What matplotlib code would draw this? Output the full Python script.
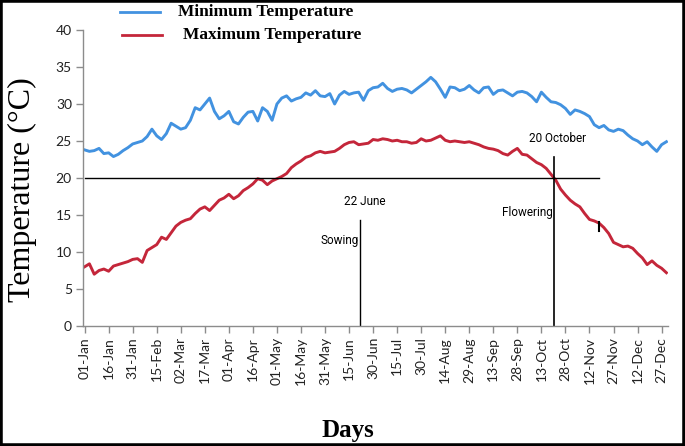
import numpy as np
import matplotlib
matplotlib.use("Agg")
import matplotlib.pyplot as plt
from matplotlib.patches import Rectangle

# day of year (0 = 01-Jan), read every 3 days off the picture
days = list(range(0, 364, 3))

# upper (blue) curve, labelled "Minimum Temperature" in the source legend
t_blue = [23.8, 23.6, 23.7, 24.0, 23.3, 23.4, 22.9, 23.2, 23.7, 24.1,
          24.6, 24.8, 25.0, 25.6, 26.6, 25.7, 25.2, 26.0, 27.4, 27.0,
          26.6, 26.8, 27.8, 29.5, 29.2, 30.0, 30.8, 29.0, 28.0, 28.4,
          29.0, 27.6, 27.3, 28.2, 28.9, 29.0, 27.7, 29.5, 29.0, 27.8,
          30.0, 30.8, 31.1, 30.4, 30.7, 30.9, 31.5, 31.2, 31.8, 31.1,
          31.0, 31.4, 30.0, 31.2, 31.7, 31.3, 31.5, 31.6, 30.5, 31.8,
          32.2, 32.3, 32.8, 32.1, 31.7, 32.0, 32.1, 31.9, 31.5, 32.0,
          32.5, 33.0, 33.6, 33.0, 32.0, 30.9, 32.3, 32.2, 31.8, 32.0,
          32.5, 31.9, 31.5, 32.2, 32.3, 31.3, 31.8, 31.9, 31.5, 31.1,
          31.6, 31.7, 31.5, 31.0, 30.3, 31.6, 30.9, 30.3, 30.2, 29.9,
          29.4, 28.6, 29.2, 29.0, 28.7, 28.3, 27.2, 26.8, 27.1, 26.5,
          26.3, 26.6, 26.4, 25.8, 25.3, 25.0, 24.5, 24.9, 24.2, 23.6,
          24.5, 24.9]

# lower (red) curve, labelled "Maximum Temperature" in the source legend
t_red = [8.0, 8.4, 7.0, 7.5, 7.7, 7.4, 8.1, 8.3, 8.5, 8.7,
         9.0, 9.1, 8.6, 10.2, 10.6, 11.0, 12.0, 11.7, 12.6, 13.5,
         14.0, 14.3, 14.5, 15.2, 15.8, 16.1, 15.6, 16.3, 17.0, 17.3,
         17.8, 17.2, 17.6, 18.3, 18.7, 19.2, 19.9, 19.7, 19.1, 19.6,
         19.9, 20.2, 20.6, 21.4, 21.9, 22.3, 22.8, 23.0, 23.4, 23.6,
         23.4, 23.5, 23.6, 24.0, 24.5, 24.8, 24.9, 24.5, 24.6, 24.7,
         25.2, 25.1, 25.3, 25.2, 25.0, 25.1, 24.9, 24.9, 24.7, 24.8,
         25.3, 25.0, 25.1, 25.4, 25.7, 25.1, 24.9, 25.0, 24.9, 24.8,
         24.9, 24.7, 24.5, 24.2, 24.0, 23.9, 23.7, 23.3, 23.1, 23.6,
         24.0, 23.2, 23.1, 22.6, 22.1, 21.8, 21.3, 20.5, 19.7, 18.5,
         17.7, 17.0, 16.5, 16.1, 15.2, 14.4, 14.2, 13.9, 13.3, 12.5,
         11.3, 11.0, 10.7, 10.8, 10.5, 9.8, 9.2, 8.3, 8.8, 8.2,
         7.8, 7.2]

tick_days = list(range(0, 361, 15))
tick_labels = ["01-Jan", "16-Jan", "31-Jan", "15-Feb", "02-Mar", "17-Mar",
               "01-Apr", "16-Apr", "01-May", "16-May", "31-May", "15-Jun",
               "30-Jun", "15-Jul", "30-Jul", "14-Aug", "29-Aug", "13-Sep",
               "28-Sep", "13-Oct", "28-Oct", "12-Nov", "27-Nov", "12-Dec",
               "27-Dec"]

sowing_day = 172      # 22 June
flowering_day = 293   # 20 October
ref_temp = 20
ref_end_day = 321

blue = "#4292e0"
red = "#c4263a"
grey = "#8c8c8c"
narrow = ["Roboto", "DejaVu Sans"]
serif = ["Liberation Serif", "DejaVu Serif"]

fig = plt.figure(figsize=(6.85, 4.46), dpi=100)
ax = fig.add_axes([83 / 685, 1 - 326 / 446, 585 / 685, 296 / 446])

ax.plot(days, t_blue, color=blue, lw=2.1)
ax.plot(days, t_red, color=red, lw=2.1)

# reference line and event markers
ax.plot([0, ref_end_day], [ref_temp, ref_temp], color="black", lw=1.0)
ax.plot([sowing_day, sowing_day], [0, 14.3], color="black", lw=1.0)
ax.plot([flowering_day, flowering_day], [0, 22.8], color="black", lw=1.2)
ax.plot([ref_end_day, ref_end_day], [12.9, 14.0], color="black", lw=1.5)

ax.text(175, 16.8, "22 June", family=narrow, fontsize=8.5, ha="center", va="center")
ax.text(159, 11.6, "Sowing", family=narrow, fontsize=8.5, ha="center", va="center")
ax.text(276, 15.4, "Flowering", family=narrow, fontsize=8.5, ha="center", va="center")
ax.text(295, 25.4, "20 October", family=narrow, fontsize=8.5, ha="center", va="center")

ax.set_xlim(-1, 364)
ax.set_ylim(0, 40)
ax.set_yticks(range(0, 41, 5))
ax.set_xticks(tick_days)
ax.set_xticklabels(tick_labels, rotation=90)
for lab in ax.get_xticklabels() + ax.get_yticklabels():
    lab.set_family(["Lato", "DejaVu Sans"])
    lab.set_fontsize(10)
    lab.set_color("#222222")

for s in ["top", "right"]:
    ax.spines[s].set_visible(False)
for s in ["left", "bottom"]:
    ax.spines[s].set_color(grey)
    ax.spines[s].set_linewidth(1.0)
ax.tick_params(axis="both", color=grey, length=5, width=1.0, pad=3)

ax.set_ylabel("Temperature (°C)", family=serif, fontsize=23, va="center")
ax.yaxis.set_label_coords((22 - 83) / 585, (326 - 190) / 296)
ax.set_xlabel("Days", family=serif, fontsize=18, fontweight="bold")
ax.xaxis.set_label_coords((348 - 83) / 585, (326 - 419) / 296)

# legend drawn by hand at the top, as in the source
fig.add_artist(plt.Line2D([120 / 685, 160 / 685], [1 - 12 / 446] * 2, color=blue, lw=2.0))
fig.add_artist(plt.Line2D([122 / 685, 162 / 685], [1 - 35 / 446] * 2, color=red, lw=2.0))
fig.text(178 / 685, 1 - 12 / 446, "Minimum Temperature", family=serif, fontsize=12.5,
         fontweight="bold", va="center")
fig.text(183 / 685, 1 - 35 / 446, "Maximum Temperature", family=serif, fontsize=12.5,
         fontweight="bold", va="center")

# black frame round the whole picture
fig.add_artist(Rectangle((0, 0), 1, 1, transform=fig.transFigure, fill=False,
                         edgecolor="black", lw=4))

fig.savefig("out.png", dpi=100)
